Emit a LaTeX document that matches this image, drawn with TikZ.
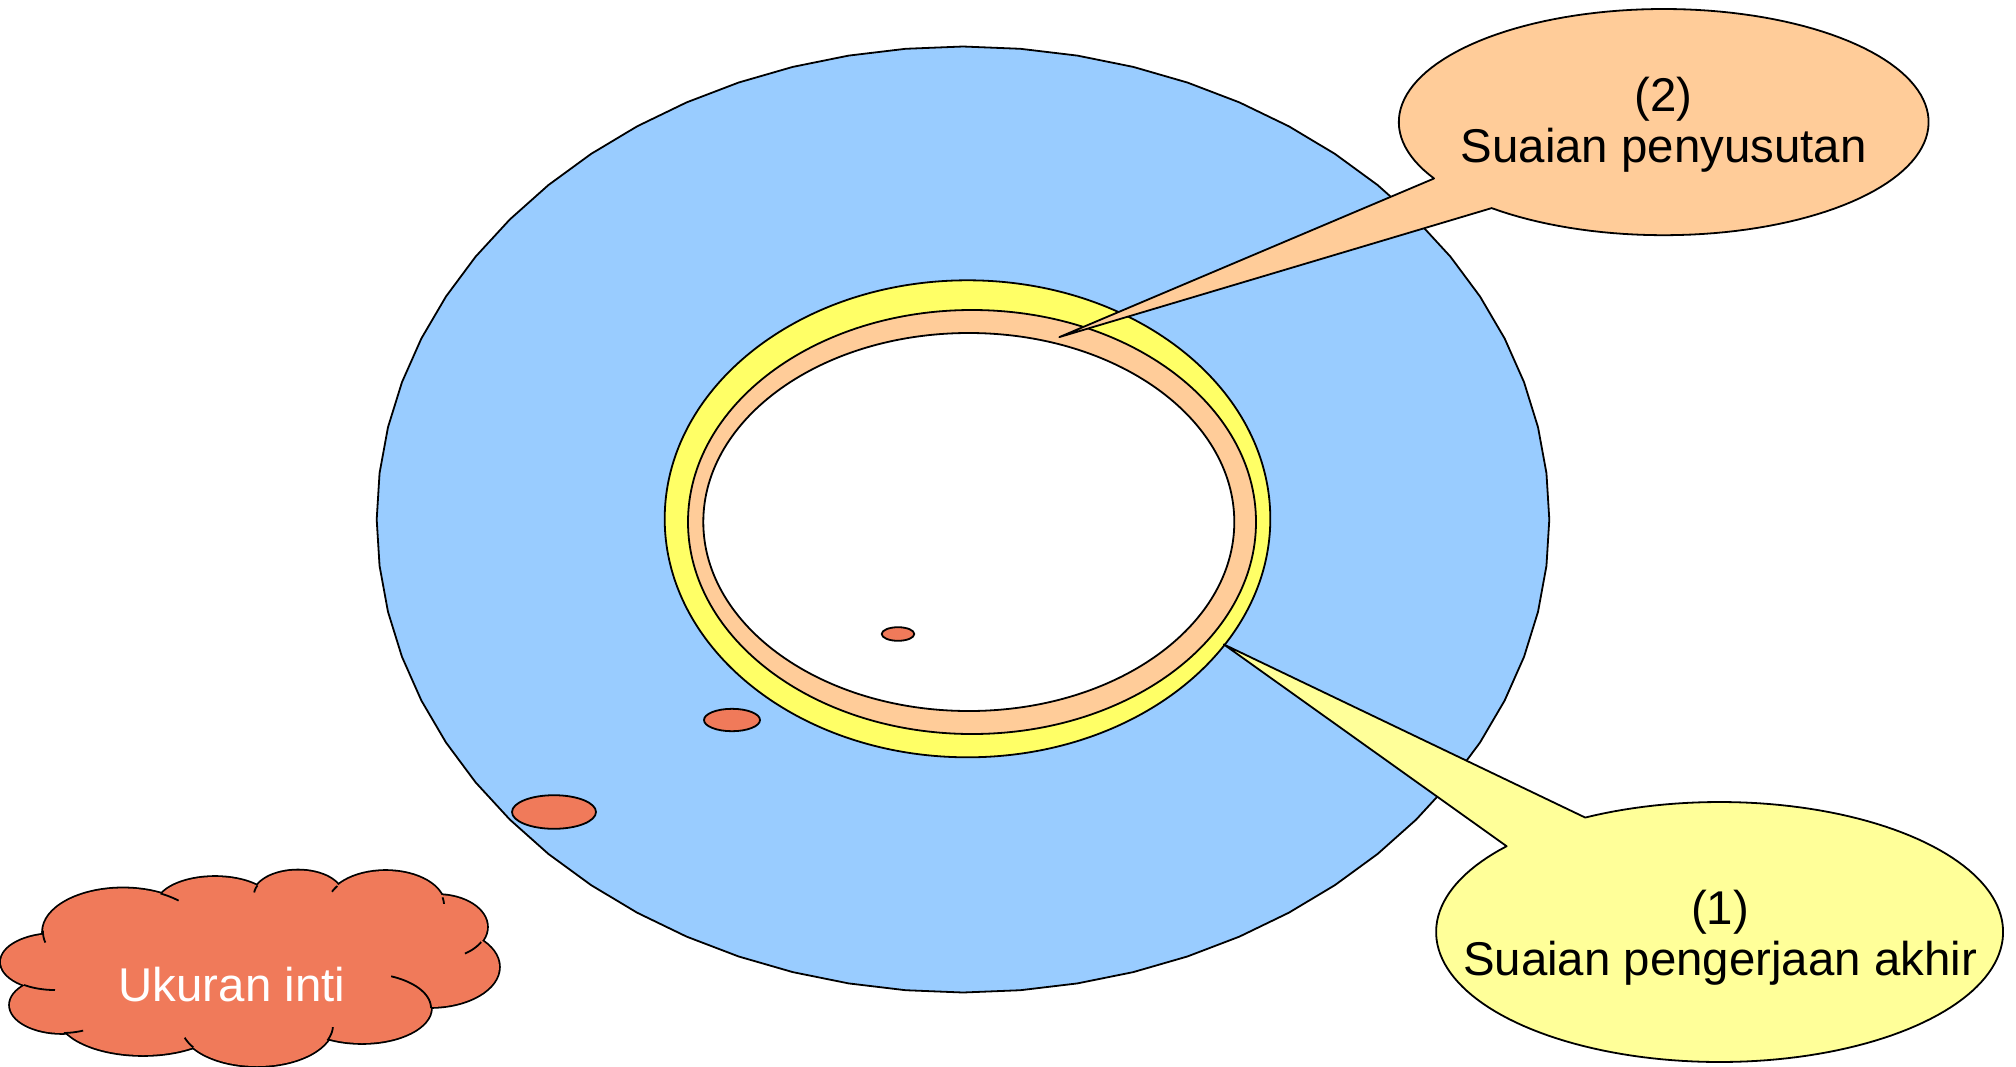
\documentclass[tikz,border=0pt]{standalone}
\usepackage{fontspec}
\setmainfont{Liberation Sans}
\definecolor{skyblue}{HTML}{99CCFF}
\definecolor{ringyellow}{HTML}{FFFF66}
\definecolor{peach}{HTML}{FFCC99}
\definecolor{paleyellow}{HTML}{FFFF99}
\definecolor{coral}{RGB}{240,122,90}
\begin{document}
\begin{tikzpicture}[x=1pt,y=-1pt,line join=round,
  outl/.style={draw=black,line width=1.8pt},
  lbl/.style={font=\fontsize{47.4}{51}\selectfont,align=center,inner sep=0pt}]
\useasboundingbox (0,0) rectangle (2016,1066);

% large blue disc (faceted)
\filldraw[fill=skyblue,outl] plot[domain=0:360,samples=65]
  ({963+586.3*cos(\x)},{519.5+473*sin(\x)}) -- cycle;

% rings
\filldraw[fill=ringyellow,outl] (967.5,518.8) ellipse [x radius=302.8pt,y radius=238.5pt];
\filldraw[fill=peach,outl] (972,522) ellipse [x radius=284pt,y radius=212pt];
\filldraw[fill=white,outl] (968.8,522) ellipse [x radius=265.5pt,y radius=189pt];

% small spots
\filldraw[fill=coral,outl] (898,634) ellipse [x radius=16.3pt,y radius=6.8pt];
\filldraw[fill=coral,outl] (732,720) ellipse [x radius=28pt,y radius=11.2pt];
\filldraw[fill=coral,outl] (554,812) ellipse [x radius=42pt,y radius=16.8pt];

% callout (2)
\coordinate (tip2) at (1059.3,337.1);
\filldraw[fill=peach,outl] (tip2) -- plot[domain=150.1:490.5,samples=140]
  ({1663.7+264.9*cos(\x)},{122.1+113.1*sin(\x)}) -- cycle;
\node[lbl] (t2) at (1663.7,124.8) {(2)\\Suaian penyusutan};

% callout (1)
\coordinate (tip1) at (1223.8,644.4);
\filldraw[fill=paleyellow,outl] (tip1) -- plot[domain=241.7:581.3,samples=160]
  ({1719.6+283.5*cos(\x)},{932+130*sin(\x)}) -- cycle;
\node[lbl] (t1) at (1720,937.3) {(1)\\Suaian pengerjaan akhir};

% cloud
\def\bumps{123/932/80/43.6, 215/905/58/28, 298/895/44/24.5, 385.7/905/58.3/34,
  437/927/50/32, 430/967/69/40, 362/1008/69/35, 257/1025/76/41,
  143/1015/85/40, 62/1005/52/28, 55/962/54/28}
\foreach \cx/\cy/\rx/\ry in \bumps {
  \draw[line width=3.6pt] (\cx,\cy) ellipse [x radius=\rx pt,y radius=\ry pt];
}
\foreach \cx/\cy/\rx/\ry in \bumps {
  \fill[coral] (\cx,\cy) ellipse [x radius=\rx pt,y radius=\ry pt];
}
\fill[coral] (250,965) ellipse [x radius=190pt,y radius=55pt];
\fill[coral] (123,932) -- (215,905) -- (298,895) -- (385.7,905) -- (437,927)
  -- (430,967) -- (362,1008) -- (257,1025) -- (143,1015) -- (62,1005)
  -- (55,962) -- cycle;
% inner hooks of the cloud
\foreach \cx/\cy/\rx/\ry/\ta/\tb in {
  123/932/80/43.6/166/182, 123/932/80/43.6/298/314,
  298/895/44/24.5/186/203, 385.7/905/58.3/34/203/214,
  385.7/905/58.3/34/347/358, 437/927/50/32/28/56,
  362/1008/69/35/295/360, 257/1025/76/41/3/22,
  257/1025/76/41/147/162, 62/1005/52/28/66/88,
  55/962/54/28/90/125} {
  \draw[line width=1.8pt] plot[domain=\ta:\tb,samples=20]
    ({\cx+\rx*cos(\x)},{\cy+\ry*sin(\x)});
}
\node[lbl,text=white,anchor=base] (core) at (232,1001.7) {Ukuran inti};
\end{tikzpicture}
\end{document}
